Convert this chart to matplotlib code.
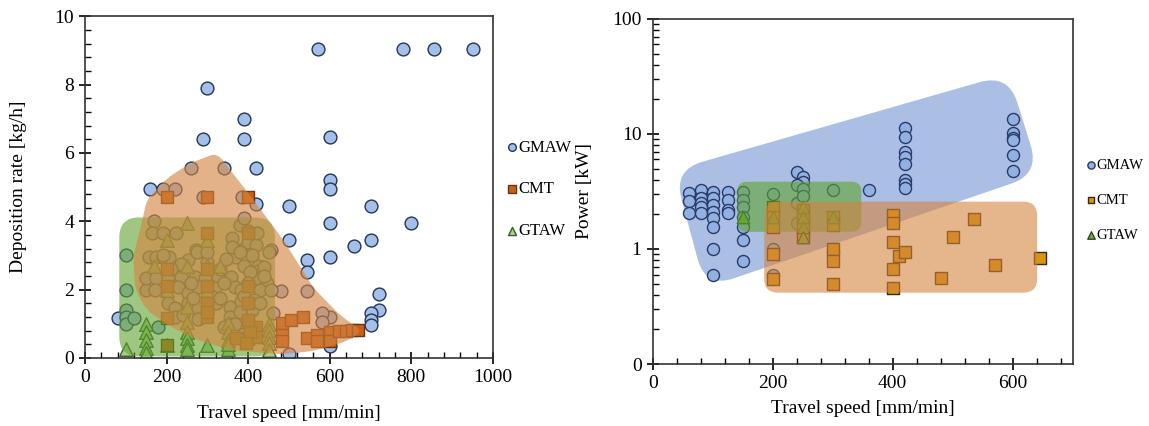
import numpy as np
import matplotlib
matplotlib.use("Agg")
import matplotlib.pyplot as plt
from matplotlib.path import Path
from matplotlib.patches import PathPatch
from matplotlib.ticker import MultipleLocator, FixedLocator, LogLocator, NullFormatter

plt.rcParams["font.family"] = ["Liberation Serif", "DejaVu Serif"]
plt.rcParams["font.size"] = 14

# ---- left panel: deposition rate vs travel speed ----
gmaw_x = [570, 780, 855, 950, 300, 390, 290, 390, 600, 260, 340, 420, 600, 600, 160, 190, 220, 290, 385,
          420, 500, 700, 600, 800, 500, 700, 660, 600, 455, 545, 545, 480, 545, 720, 720, 700, 700, 700,
          600, 580, 582, 462, 500, 80, 600,
          100, 100, 100, 100, 100, 120, 150, 180, 170, 163, 191, 224, 158, 175, 191, 207, 273, 252, 367,
          379, 150, 175, 203, 236, 269, 293, 326, 359, 171, 228, 252, 277, 318, 367, 383, 203, 220, 252,
          277, 322, 355, 383, 220, 240, 277, 355, 392, 355, 367, 425, 425, 440, 425, 445, 430, 455, 300,
          330, 345, 390, 405, 400, 340, 310, 265, 390, 410, 300, 380, 330, 235, 210, 260, 415, 430, 400,
          420, 360, 380, 390, 400, 190, 410, 440, 405, 390, 340, 274, 298, 360, 380, 421, 452]
gmaw_y = [9.05, 9.05, 9.05, 9.05, 7.9, 7.0, 6.4, 6.4, 6.45, 5.55, 5.55, 5.55, 5.2, 4.93, 4.95, 4.95, 4.95,
          4.7, 4.7, 4.5, 4.43, 4.43, 3.95, 3.95, 3.45, 3.45, 3.28, 2.95, 3.15, 2.85, 2.5, 1.95, 1.95, 1.87,
          1.4, 1.3, 1.1, 0.95, 1.2, 1.3, 1.06, 1.3, 0.12, 1.18, 0.35,
          3.0, 2.0, 1.4, 1.2, 1.0, 1.18, 2.0, 0.9, 4.0, 3.65, 3.65, 3.65, 2.96, 2.96, 2.96, 2.96, 3.16,
          2.87, 2.96, 3.16, 2.33, 2.33, 2.33, 2.37, 2.37, 2.33, 2.37, 2.37, 2.0, 2.08, 1.9, 2.08, 2.04,
          2.08, 2.0, 1.6, 1.45, 1.6, 1.45, 1.6, 1.5, 1.65, 1.2, 1.25, 1.15, 1.2, 1.15, 0.98, 1.0, 2.7,
          2.55, 2.65, 2.35, 2.2, 2.0, 2.0, 2.8, 2.6, 2.9, 2.7, 2.5, 2.2, 2.2, 1.8, 1.75, 1.8, 1.4, 1.35,
          1.35, 1.75, 2.75, 2.6, 2.2, 1.7, 1.6, 3.4, 3.3, 3.5, 3.9, 4.1, 3.7, 3.0, 3.0, 2.4, 0.9, 0.7, 0.9,
          3.1, 3.1, 3.25, 3.1, 3.65, 3.1]

cmt_x = [200, 300, 400, 300, 400, 200, 300, 200, 300, 400, 300, 400, 300, 200, 200, 370, 400, 420, 420,
         404, 482, 505, 535, 482, 482, 543, 568, 568, 600, 600, 623, 641, 655, 670, 400, 395, 300]
cmt_y = [4.7, 4.7, 4.7, 3.65, 3.65, 2.6, 2.6, 2.1, 2.1, 2.1, 1.6, 1.6, 1.2, 1.18, 0.38, 0.58, 0.55, 0.9,
         0.6, 0.76, 1.01, 1.12, 1.2, 0.67, 0.48, 0.57, 0.67, 0.48, 0.76, 0.49, 0.79, 0.8, 0.81, 0.82, 1.1,
         0.44, 1.35]

gtaw_x = [100, 150, 150, 150, 150, 200, 250, 250, 250, 250, 250, 300, 350, 350, 350, 350, 450, 450, 450,
          450, 450, 250, 200, 300, 170, 250, 300, 330, 200, 300, 250, 350, 150]
gtaw_y = [0.25, 1.0, 0.77, 0.53, 0.3, 0.38, 1.06, 0.77, 0.57, 0.38, 0.25, 0.38, 1.01, 0.77, 0.53, 0.25,
          1.0, 0.82, 0.62, 0.43, 0.23, 3.95, 3.45, 3.45, 2.7, 2.7, 2.7, 2.7, 2.0, 2.0, 1.5, 0.4, 0.15]

# shaded regions (left)
cmt_zone_x = [323, 405, 486, 560, 625, 680, 641, 560, 478, 355, 274, 208, 151, 123, 118, 139, 151, 200, 257]
cmt_zone_y = [6.0, 4.75, 3.45, 2.05, 1.25, 0.78, 0.48, 0.2, 0.1, 0.23, 0.53, 0.92, 1.4, 2.0, 2.96, 3.94,
              4.62, 5.25, 5.69]
gtaw_zone_x = [84, 466, 466, 84]
gtaw_zone_y = [4.11, 4.11, 0.04, 0.04]

# ---- right panel: power vs travel speed ----
p_gmaw_x = [600, 600, 600, 600, 600, 600, 420, 420, 420, 420, 420, 420, 420, 420, 360, 240, 250, 250, 240,
            300, 200, 150, 60, 60, 60, 80, 80, 80, 80, 80, 100, 100, 100, 100, 100, 100, 100, 100, 125,
            125, 125, 125, 150, 150, 150, 150, 150, 150, 240, 240, 250, 250, 250, 250, 250, 200, 200, 300,
            200]
p_gmaw_y = [13.5, 10.1, 9.2, 8.9, 6.6, 4.8, 11.3, 9.5, 7.0, 6.35, 5.5, 4.0, 3.7, 3.4, 3.25, 4.7, 4.25, 3.85,
            3.6, 3.25, 3.0, 3.1, 3.05, 2.6, 2.05, 3.25, 2.75, 2.5, 2.3, 2.05, 3.15, 2.75, 2.4, 2.1, 1.85,
            1.56, 1.0, 0.6, 3.15, 2.65, 2.2, 2.05, 2.65, 2.3, 1.9, 1.56, 1.2, 0.79, 2.5, 1.67, 3.3, 2.9,
            2.2, 1.85, 1.5, 1.0, 0.6, 0.95, 2.2]
p_cmt_x = [200, 200, 200, 200, 200, 250, 250, 250, 250, 300, 300, 300, 300, 300, 400, 400, 400, 400, 400,
           410, 420, 480, 500, 535, 570, 645]
p_cmt_y = [2.3, 1.9, 1.55, 0.9, 0.55, 2.18, 1.85, 1.51, 1.28, 1.9, 1.62, 1.0, 0.78, 0.5, 1.97, 1.67, 1.16,
           0.67, 0.46, 0.87, 0.95, 0.56, 1.28, 1.81, 0.72, 0.83]
p_gtaw_x = [150, 200, 250, 250, 250, 250, 300]
p_gtaw_y = [1.91, 1.91, 2.33, 1.91, 1.56, 1.28, 1.91]

p_gmaw_zone_x = [35, 593, 645, 88]
p_gmaw_zone_y = [4.86, 33.3, 4.49, 0.458]
p_gtaw_zone_x = [141, 348, 348, 141]
p_gtaw_zone_y = [3.85, 3.85, 1.41, 1.41]
p_cmt_zone_x = [186, 641, 641, 186]
p_cmt_zone_y = [2.58, 2.58, 0.417, 0.417]

W, H = 1149, 426
fig = plt.figure(figsize=(W / 100, H / 100), dpi=100)
ax1 = fig.add_axes([0.074, 0.160, 0.355, 0.802])
ax2 = fig.add_axes([0.568, 0.1455, 0.3655, 0.81])


def rounded(ax, xs, ys, r, **kw):
    # round the corners of a polygon in pixel space, draw in axes coords
    pos = ax.get_position()
    aw, ah = pos.width * W, pos.height * H
    pts = (ax.transScale + ax.transLimits).transform(np.column_stack([xs, ys])) * [aw, ah]
    n = len(pts)
    verts, codes = [], []
    for i in range(n):
        prv, cur, nxt = pts[i - 1], pts[i], pts[(i + 1) % n]
        d1, d2 = prv - cur, nxt - cur
        l1, l2 = np.hypot(*d1), np.hypot(*d2)
        rr = min(r, l1 / 2, l2 / 2)
        a = cur + d1 / l1 * rr
        b = cur + d2 / l2 * rr
        verts.append(a)
        codes.append(Path.MOVETO if i == 0 else Path.LINETO)
        verts += [cur, b]
        codes += [Path.CURVE3, Path.CURVE3]
    verts.append(verts[0])
    codes.append(Path.CLOSEPOLY)
    verts = np.array(verts) / [aw, ah]
    patch = PathPatch(Path(verts, codes), transform=ax.transAxes, lw=0, **kw)
    ax.add_patch(patch)


def style(ax):
    for s in ax.spines.values():
        s.set_linewidth(1.2)
        s.set_color("#333333")
    ax.tick_params(which="major", direction="inout", length=9, width=1.2, top=False, right=False)
    ax.tick_params(which="minor", direction="in", length=4, width=1.0, top=False, right=False)


# left panel
ax1.set_xlim(0, 1000)
ax1.set_ylim(0, 10)
ax1.xaxis.set_major_locator(MultipleLocator(200))
ax1.xaxis.set_minor_locator(MultipleLocator(40))
ax1.yaxis.set_major_locator(MultipleLocator(2))
ax1.yaxis.set_minor_locator(MultipleLocator(0.4))
style(ax1)

ax1.scatter(gmaw_x, gmaw_y, s=85, marker="o", facecolor="#A3C0EA", edgecolor="#263552", lw=1.0,
            zorder=2, label="GMAW")
ax1.scatter(gtaw_x, gtaw_y, s=95, marker="^", facecolor="#A9D18E", edgecolor="#3B5E2B", lw=1.0,
            zorder=2, label="GTAW")
ax1.scatter(cmt_x, cmt_y, s=80, marker="s", facecolor="#C9601A", edgecolor="#6B3410", lw=1.0,
            zorder=2, label="CMT")
rounded(ax1, gtaw_zone_x, gtaw_zone_y, 20, facecolor="#61A32F", alpha=0.6, zorder=3)
rounded(ax1, cmt_zone_x, cmt_zone_y, 8, facecolor="#D4843F", alpha=0.62, zorder=3.1)

ax1.set_xlabel("Travel speed [mm/min]", labelpad=14)
ax1.set_ylabel("Deposition rate [kg/h]", labelpad=20)
h, l = ax1.get_legend_handles_labels()
fig.legend([h[0], h[2], h[1]], [l[0], l[2], l[1]], loc="upper left", bbox_to_anchor=(0.434, 0.692),
           frameon=False, fontsize=12, labelspacing=1.55, handlelength=0.6, handletextpad=0.1,
           borderpad=0, markerscale=0.6)

# right panel
ax2.set_xlim(0, 700)
ax2.set_yscale("log")
ax2.set_ylim(0.1, 100)
ax2.xaxis.set_major_locator(MultipleLocator(200))
ax2.xaxis.set_minor_locator(MultipleLocator(40))
ax2.yaxis.set_major_locator(FixedLocator([0.1, 1, 10, 100]))
ax2.set_yticklabels(["0", "1", "10", "100"])
ax2.yaxis.set_minor_locator(LogLocator(base=10, subs=np.arange(2, 10)))
ax2.yaxis.set_minor_formatter(NullFormatter())
style(ax2)

rounded(ax2, p_gmaw_zone_x, p_gmaw_zone_y, 30, facecolor="#8FAADC", alpha=0.75, zorder=1)
ax2.scatter(p_gmaw_x, p_gmaw_y, s=75, marker="o", facecolor="#92B1E3", edgecolor="#2A3A66", lw=1.0,
            zorder=2, label="GMAW")
ax2.scatter(p_cmt_x, p_cmt_y, s=70, marker="s", facecolor="#D9960B", edgecolor="#3C2A10", lw=1.0,
            zorder=2, label="CMT")
ax2.scatter(p_gtaw_x, p_gtaw_y, s=80, marker="^", facecolor="#6AAF3D", edgecolor="#2C4A1E", lw=1.0,
            zorder=2, label="GTAW")
rounded(ax2, p_gtaw_zone_x, p_gtaw_zone_y, 10, facecolor="#61A32F", alpha=0.6, zorder=3)
rounded(ax2, p_cmt_zone_x, p_cmt_zone_y, 14, facecolor="#D4843F", alpha=0.6, zorder=3.1)

ax2.set_xlabel("Travel speed [mm/min]", labelpad=6)
ax2.set_ylabel("Power [kW]", labelpad=14)
fig.legend(*ax2.get_legend_handles_labels(), loc="upper left", bbox_to_anchor=(0.939, 0.645),
           frameon=False, fontsize=10.5, labelspacing=1.5, handlelength=0.6, handletextpad=0.1,
           borderpad=0, markerscale=0.6)

fig.savefig("out.png", dpi=100)
